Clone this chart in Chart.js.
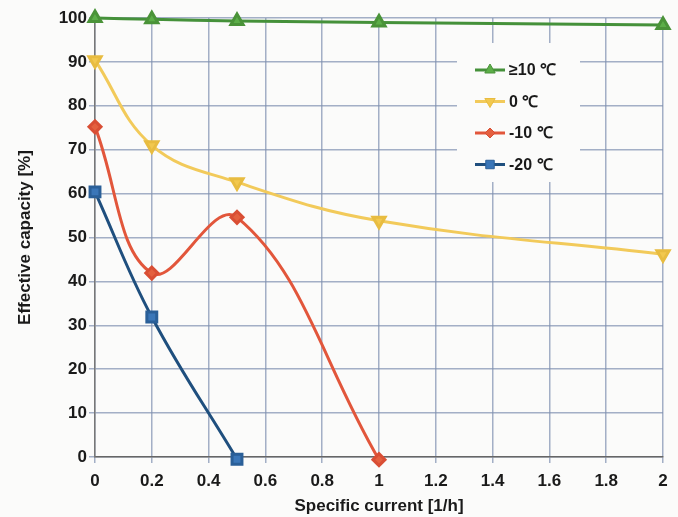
<!DOCTYPE html>
<html>
<head>
<meta charset="utf-8">
<script src="https://cdn.jsdelivr.net/npm/chart.js@4.4.0/dist/chart.umd.min.js"></script>
<style>
  html, body { margin: 0; padding: 0; background: #fbfbfa; }
  #wrap { width: 678px; height: 517px; position: relative; }
</style>
</head>
<body>
<div id="wrap"><canvas id="grafico" width="678" height="517"></canvas></div>
<script>
// Dados
const xTicks = [0, 0.2, 0.4, 0.6, 0.8, 1, 1.2, 1.4, 1.6, 1.8, 2];
const yTicks = [0, 10, 20, 30, 40, 50, 60, 70, 80, 90, 100];

const seriesLabels = ['≥10 ℃', '0 ℃', '-10 ℃', '-20 ℃'];

const xWarm = [0, 0.2, 0.5, 1, 2];
const yWarm = [100, 99.7, 99.3, 99, 98.4];

const xZero = [0, 0.2, 0.5, 1, 2];
const yZero = [90.4, 71, 62.6, 53.8, 46.2];

const xMinus10 = [0, 0.2, 0.5, 1];
const yMinus10 = [75.2, 41.9, 54.6, -0.6];

const xMinus20 = [0, 0.2, 0.5];
const yMinus20 = [60.4, 31.9, -0.5];

function pares(xs, ys) {
    return xs.map((x, i) => ({ x: x, y: ys[i] }));
}

const fonte = "'Liberation Sans', Arial, sans-serif";

// Legenda desenhada dentro da área do gráfico
const legendaInterna = {
    id: 'legendaInterna',
    afterDatasetsDraw(chart) {
        const ctx = chart.ctx;
        const area = chart.chartArea;
        const bx = area.left + 362, by = area.top + 25;
        ctx.save();
        ctx.fillStyle = '#fbfbfa';
        ctx.fillRect(bx, by, 123, 139);
        chart.data.datasets.forEach((ds, i) => {
            const cy = by + 27 + i * 31.5;
            const x0 = bx + 18, x1 = bx + 48;
            ctx.strokeStyle = ds.borderColor;
            ctx.lineWidth = 3;
            ctx.beginPath();
            ctx.moveTo(x0, cy);
            ctx.lineTo(x1, cy);
            ctx.stroke();
            ctx.fillStyle = ds.pointBackgroundColor;
            ctx.strokeStyle = ds.pointBorderColor;
            ctx.lineWidth = 1;
            Chart.helpers.drawPoint(ctx, {
                pointStyle: ds.pointStyle,
                rotation: ds.pointRotation || 0,
                radius: ds.pointRadius - 1,
                borderWidth: 1
            }, (x0 + x1) / 2, cy);
            ctx.fillStyle = '#1a1a1a';
            ctx.font = 'bold 16px ' + fonte;
            ctx.textBaseline = 'middle';
            ctx.fillText(ds.label, x1 + 4, cy + 1);
        });
        ctx.restore();
    }
};

const ctxGrafico = document.getElementById('grafico').getContext('2d');
const grafico = new Chart(ctxGrafico, {
    type: 'line',
    data: {
        datasets: [
            {
                label: seriesLabels[0],
                data: pares(xWarm, yWarm),
                borderColor: '#45913a',
                backgroundColor: '#5cae48',
                pointBackgroundColor: '#5cae48',
                pointBorderColor: '#4a9338',
                pointStyle: 'triangle',
                pointRadius: 7,
                borderWidth: 3,
                tension: 0.4
            },
            {
                label: seriesLabels[1],
                data: pares(xZero, yZero),
                borderColor: '#f2ca5a',
                backgroundColor: '#f2c84e',
                pointBackgroundColor: '#f2c84e',
                pointBorderColor: '#e8bc40',
                pointStyle: 'triangle',
                pointRotation: 180,
                pointRadius: 7,
                borderWidth: 3,
                tension: 0.4
            },
            {
                label: seriesLabels[2],
                data: pares(xMinus10, yMinus10),
                borderColor: '#e2563b',
                backgroundColor: '#e4603f',
                pointBackgroundColor: '#e4603f',
                pointBorderColor: '#d94e34',
                pointStyle: 'rectRot',
                pointRadius: 6,
                borderWidth: 3,
                tension: 0.4
            },
            {
                label: seriesLabels[3],
                data: pares(xMinus20, yMinus20),
                borderColor: '#1f4f7e',
                backgroundColor: '#3a76b8',
                pointBackgroundColor: '#3a76b8',
                pointBorderColor: '#2a5f98',
                pointStyle: 'rect',
                pointRadius: 7,
                borderWidth: 3,
                tension: 0.4
            }
        ]
    },
    options: {
        responsive: false,
        animation: false,
        clip: false,
        layout: { padding: { left: 0, right: 15, top: 18, bottom: 0 } },
        plugins: {
            legend: { display: false },
            tooltip: { enabled: false }
        },
        scales: {
            x: {
                type: 'linear',
                min: 0,
                max: 2,
                afterBuildTicks: (scale) => { scale.ticks = xTicks.map(v => ({ value: v })); },
                afterFit: (scale) => { scale.height = 60; },
                grid: { color: 'rgba(125,142,175,0.7)', lineWidth: 1.5, tickLength: 6 },
                border: { color: '#666', width: 1.5 },
                ticks: {
                    color: '#1a1a1a',
                    padding: 8,
                    maxRotation: 0,
                    font: { family: fonte, size: 17, weight: 'bold' },
                    callback: (v) => String(v)
                },
                title: {
                    display: true,
                    text: 'Specific current [1/h]',
                    color: '#1a1a1a',
                    padding: { top: -2, bottom: 0 },
                    font: { family: fonte, size: 17, weight: 'bold' }
                }
            },
            y: {
                min: 0,
                max: 100,
                afterBuildTicks: (scale) => { scale.ticks = yTicks.map(v => ({ value: v })); },
                afterFit: (scale) => { scale.width = 95; },
                grid: { color: 'rgba(125,142,175,0.7)', lineWidth: 1.5, tickLength: 6 },
                border: { color: '#777', width: 1.5 },
                ticks: {
                    color: '#1a1a1a',
                    padding: 2,
                    font: { family: fonte, size: 17, weight: 'bold' }
                },
                title: {
                    display: true,
                    text: 'Effective capacity [%]',
                    color: '#1a1a1a',
                    padding: { top: 15, bottom: 4 },
                    font: { family: fonte, size: 17, weight: 'bold' }
                }
            }
        }
    },
    plugins: [legendaInterna]
});
</script>
</body>
</html>
